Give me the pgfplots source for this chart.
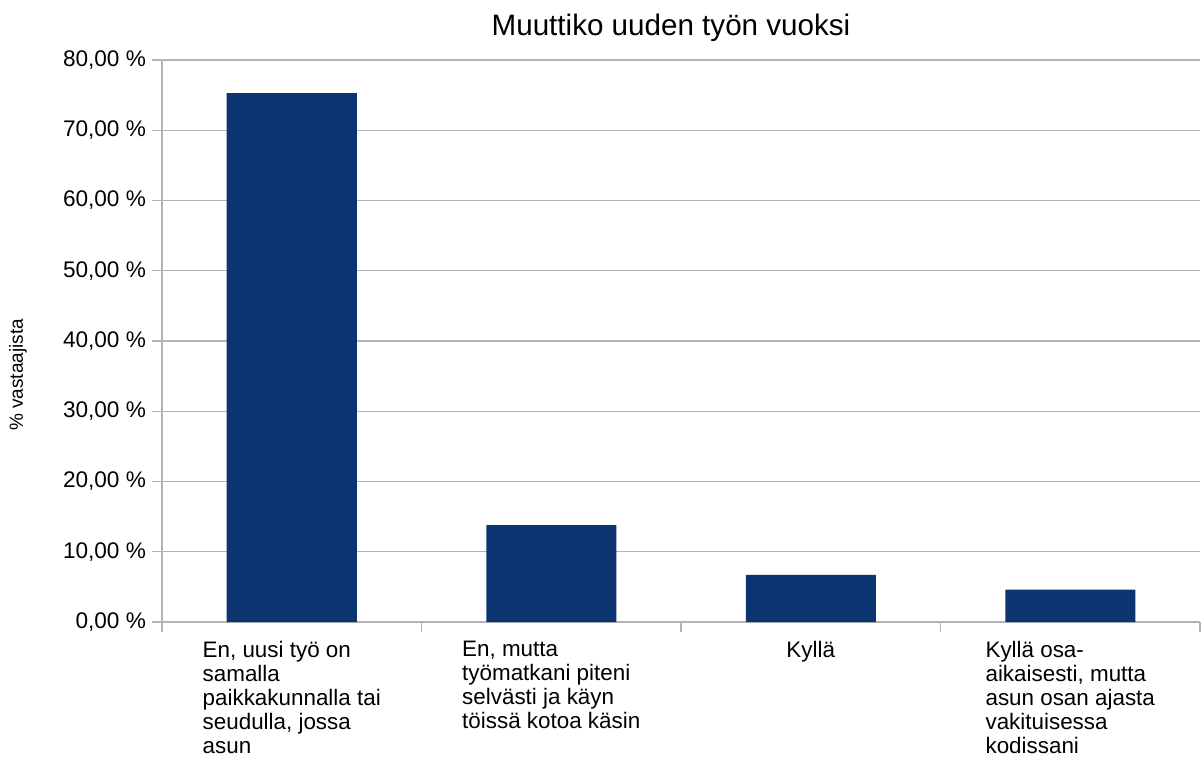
\documentclass[border=0pt]{standalone}
\usepackage{fontspec}
\setmainfont{Liberation Sans}
\usepackage{pgfplots}
\pgfplotsset{compat=1.18}
\definecolor{barblue}{RGB}{12,52,112}
\definecolor{gridgray}{RGB}{179,179,179}
\begin{document}
\begin{tikzpicture}
\path[use as bounding box] (-81pt,-67.5pt) rectangle (520.5pt,311pt);
\begin{axis}[
  at={(0,0)}, anchor=south west,
  scale only axis, width=519pt, height=281pt,
  ybar, bar width=65pt,
  xmin=-0.5, xmax=3.5, ymin=0, ymax=80,
  axis lines=left,
  axis line style={-, draw=gridgray, line width=0.7pt},
  tick align=outside,
  ytick={0,10,...,80},
  yticklabels={{0,00 \%},{10,00 \%},{20,00 \%},{30,00 \%},{40,00 \%},{50,00 \%},{60,00 \%},{70,00 \%},{80,00 \%}},
  yticklabel style={font=\fontsize{11.3}{13}\selectfont, xshift=0.5pt},
  ymajorgrids, grid style={gridgray, line width=0.7pt},
  major tick length=5pt,
  tick style={gridgray, line width=0.7pt},
  % category separators carry the tick marks
  xtick={-0.5,0.5,1.5,2.5,3.5},
  xticklabels={},
  % category names sit under the bars, without marks
  extra x ticks={0,1,2,3},
  extra x tick labels={
    {En, uusi työ on\\samalla\\paikkakunnalla tai\\seudulla, jossa\\asun},
    {En, mutta\\työmatkani piteni\\selvästi ja käyn\\töissä kotoa käsin},
    {Kyllä},
    {Kyllä osa-\\aikaisesti, mutta\\asun osan ajasta\\vakituisessa\\kodissani}},
  extra x tick style={major tick length=0pt,
    xticklabel style={align=left, anchor=north, yshift=-6pt,
      font=\fontsize{11.2}{12}\selectfont}},
]
\addplot[draw=none, fill=barblue] coordinates {(0,75.3) (1,13.8) (2,6.7) (3,4.6)};
\end{axis}
\node[anchor=base, font=\fontsize{14.8}{17}\selectfont] at (254.5pt,293.5pt) {Muuttiko uuden työn vuoksi};
\node[rotate=90, font=\fontsize{9.5}{11}\selectfont] at (-72pt,123.5pt) {\% vastaajista};
\end{tikzpicture}
\end{document}
